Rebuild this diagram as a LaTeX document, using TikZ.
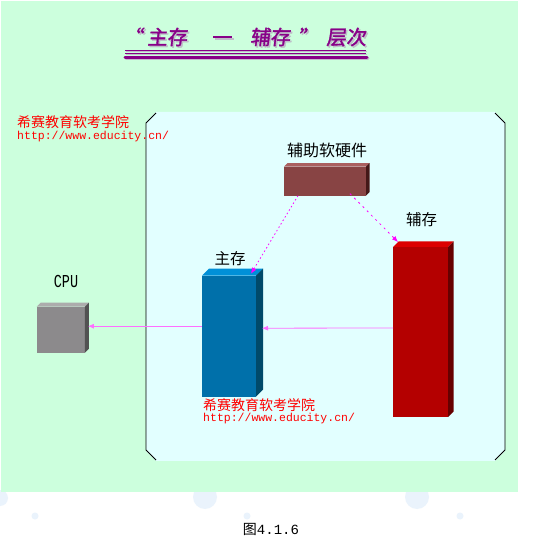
\documentclass[tikz,border=0pt]{standalone}
\usepackage{fontspec}
\setmainfont{Liberation Serif}
\setmonofont{Liberation Mono}
\newfontfamily\cjk{Noto Sans CJK SC}
\newfontfamily\cjktitle[FakeSlant=0.12,FakeBold=1.6]{Noto Sans CJK SC}
\usetikzlibrary{arrows.meta}

\definecolor{bggreen}{RGB}{204,255,221}
\definecolor{panelcyan}{RGB}{226,255,255}
\definecolor{bubble}{RGB}{234,243,252}
\definecolor{titlepurple}{RGB}{136,0,136}
\definecolor{titlegray}{RGB}{190,190,200}
\definecolor{linkpink}{RGB}{255,110,255}
\definecolor{dlinkpink}{RGB}{255,0,255}
\definecolor{cpufront}{RGB}{140,138,140}
\definecolor{cputop}{RGB}{172,172,172}
\definecolor{cpuside}{RGB}{82,82,82}
\definecolor{mainfront}{RGB}{0,112,170}
\definecolor{maintop}{RGB}{0,144,216}
\definecolor{mainside}{RGB}{0,74,106}
\definecolor{auxfront}{RGB}{180,0,0}
\definecolor{auxtop}{RGB}{220,0,0}
\definecolor{auxside}{RGB}{102,0,0}
\definecolor{swfront}{RGB}{136,68,68}
\definecolor{swtop}{RGB}{170,96,96}
\definecolor{swside}{RGB}{68,24,24}

\newcommand\titlestr{“\hspace{0.2em}主存\hspace{1.3em}\raisebox{0.32em}{\rule{0.95em}{0.09em}}\hspace{0.9em}辅存\hspace{0.4em}”\hspace{0.4em}层次}

\begin{document}
\begin{tikzpicture}[x=1pt,y=-1pt,
		face/.style={inner sep=0pt,outer sep=0pt,draw=none},
		lbl/.style={inner sep=0pt,font=\cjk\fontsize{15.5}{15.5}\selectfont},
		wmcn/.style={inner sep=0pt,anchor=west,text=red,font=\cjk\fontsize{14}{14}\selectfont},
		wmurl/.style={inner sep=0pt,anchor=west,text=red,font=\ttfamily\fontsize{11.5}{11.5}\selectfont},
		link/.style={draw=linkpink,line width=0.8pt,-{Latex[length=6pt,width=5pt]}},
		dlink/.style={draw=dlinkpink,line width=0.8pt,-{Latex[length=6pt,width=5pt]}},
		titletext/.style={inner sep=0pt,anchor=west,font=\cjktitle\fontsize{20}{20}\selectfont}]
		\useasboundingbox (0,0) rectangle (547,540);
		\fill[white] (0,0) rectangle (547,540);
		% bubbles under the green
		\fill[bubble] (205,497) circle (12);
		\fill[bubble] (417,497) circle (12);
		\fill[bubble] (0,498) circle (8);
		\fill[bubble] (35,516) circle (3.5);
		\fill[bubble] (247,516) circle (3.5);
		\fill[bubble] (460,516) circle (3.5);
		\fill[bggreen] (1,1) rectangle (518,492);
		%
		\node[titletext,text=titlegray] (tshadow) at (124.5,38.5) {\titlestr};
		\node[titletext,text=titlepurple] (title) at (123,37) {\titlestr};
		\draw[titlegray,line width=1pt] (126,51.7) -- (367,51.7);
		\draw[titlegray,line width=1pt] (126,54.3) -- (367,54.3);
		\draw[titlegray,line width=3pt,line cap=round] (126,58.5) -- (368,58.5);
		\draw[titlepurple,line width=1pt] (125,50.7) -- (366,50.7);
		\draw[titlepurple,line width=1pt] (125,53.3) -- (366,53.3);
		\draw[titlepurple,line width=3pt,line cap=round] (125,57.3) -- (367,57.3);
		%
		\fill[panelcyan] (156,112) -- (495,112) -- (505,122) -- (505,451) -- (495,461) -- (156,461) -- (146,451) -- (146,122) -- cycle;
		\draw[line width=0.8pt] (156,113) -- (146,123) -- (146,450) -- (156,460);
		\draw[line width=0.8pt] (495,113) -- (505,123) -- (505,450) -- (495,460);
		%
		\node[wmcn] (wma) at (17,122.5) {希赛教育软考学院};
		\node[wmurl] (wmaurl) at (17,136.7) {http://www.educity.cn/};
		%
		\node[face,fill=cpufront,minimum width=48.3pt,minimum height=46pt] (cpu) at (60.8,329.7) {};
		\fill[cputop] (cpu.north west) -- ++(4,-4) -- ([shift={(4,-4)}]cpu.north east) -- (cpu.north east) -- cycle;
		\fill[cpuside] (cpu.north east) -- ++(4,-4) -- ([shift={(4,-4)}]cpu.south east) -- (cpu.south east) -- cycle;
		\node[inner sep=0pt,font=\ttfamily\fontsize{13.5}{13.5}\selectfont] (cpulbl) at (66,281) {\scalebox{1}[1.35]{CPU}};
		%
		\node[face,fill=mainfront,minimum width=54pt,minimum height=121pt] (blue) at (229,336.2) {};
		\fill[maintop] (blue.north west) -- ++(7,-7) -- ([shift={(7,-7)}]blue.north east) -- (blue.north east) -- cycle;
		\fill[mainside] (blue.north east) -- ++(7,-7) -- ([shift={(7,-7)}]blue.south east) -- (blue.south east) -- cycle;
		\node[lbl] (bluelbl) at (230,258.3) {主存};
		%
		\node[face,fill=auxfront,minimum width=55pt,minimum height=170pt] (red) at (420.5,332) {};
		\fill[auxtop] (red.north west) -- ++(5.5,-5.5) -- ([shift={(5.5,-5.5)}]red.north east) -- (red.north east) -- cycle;
		\fill[auxside] (red.north east) -- ++(5.5,-5.5) -- ([shift={(5.5,-5.5)}]red.south east) -- (red.south east) -- cycle;
		\node[lbl] (redlbl) at (421.5,219.2) {辅存};
		%
		\node[face,fill=swfront,minimum width=82pt,minimum height=29pt] (brn) at (325,181.2) {};
		\fill[swtop] (brn.north west) -- ++(3.5,-3.5) -- ([shift={(3.5,-3.5)}]brn.north east) -- (brn.north east) -- cycle;
		\fill[swside] (brn.north east) -- ++(3.5,-3.5) -- ([shift={(3.5,-3.5)}]brn.south east) -- (brn.south east) -- cycle;
		\node[lbl,font=\cjk\fontsize{16}{16}\selectfont] (brnlbl) at (327,150) {辅助软硬件};
		%
		\node[wmcn] (wmb) at (203,405) {希赛教育软考学院};
		\node[wmurl] (wmburl) at (203,418.5) {http://www.educity.cn/};
		%
		\draw[link] ([yshift=4pt]red.west) -- ([xshift=6pt,yshift=8pt]blue.east);
		\draw[link] ([yshift=10pt]blue.west) -- ([xshift=3pt,yshift=3.5pt]cpu.east);
		\draw[dlink,dash pattern=on 1.5pt off 2.5pt] ([xshift=-27pt]brn.south) -- ([xshift=22pt,yshift=2pt]blue.north);
		\draw[dlink,dash pattern=on 2pt off 4pt] ([xshift=25pt,yshift=2pt]brn.south) -- ([xshift=5pt,yshift=5pt]red.north west);
		%
		\node[inner sep=0pt,font=\fontsize{14}{14}\selectfont] (cap) at (271,529) {{\cjk 图}\ttfamily 4.1.6};
	\end{tikzpicture}
\end{document}
